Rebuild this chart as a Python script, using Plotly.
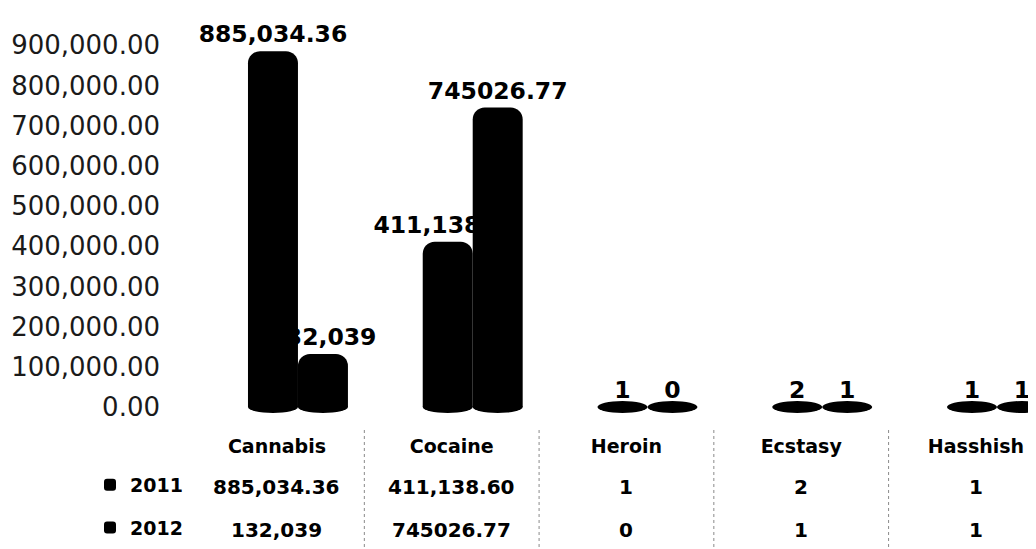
import plotly.graph_objects as go

# Saisies (kg) par drogue, 2011 et 2012
categories = ["Cannabis", "Cocaine", "Heroin", "Ecstasy", "Hasshish"]
years = ["2011", "2012"]
values_2011 = [885034.36, 411138.60, 1, 2, 1]
values_2012 = [132039, 745026.77, 0, 1, 1]
# libellés tels qu'ils apparaissent dans la table de données
labels_2011 = ["885,034.36", "411,138.60", "1", "2", "1"]
labels_2012 = ["132,039", "745026.77", "0", "1", "1"]
y_ticks = [0, 100000, 200000, 300000, 400000, 500000, 600000, 700000, 800000, 900000]

W, H = 1036, 549
LEFT, TOP, ZERO, BOTTOM = 190, 15, 399, 413
PLOT_H = BOTTOM - TOP
PX_PER_100K = 40.2
COL_W = 174.75  # largeur d'une colonne de la table (px)
SHIFT = -21  # décalage des libellés de table par rapport aux barres (effet 3D)
INK = "#000000"
FONT = "DejaVu Sans"


def paper_y(px):
    """Position verticale en pixels -> coordonnée 'paper'."""
    return (BOTTOM - px) / PLOT_H


fig = go.Figure()
series = [(years[0], values_2011, labels_2011), (years[1], values_2012, labels_2012)]
for name, vals, labels in series:
    fig.add_trace(go.Bar(
        name=name,
        x=categories,
        y=vals,
        text=labels,
        textposition="outside",
        constraintext="none",
        cliponaxis=False,
        textfont=dict(family=FONT, size=23.5, color=INK, weight="bold"),
        marker=dict(color="#000000", line=dict(width=0), cornerradius=12),
        legendgroup=name,
        hoverinfo="x+y+name",
    ))

# Fond elliptique des cylindres (seul visible pour les très petites valeurs)
bar_w = (1 - 0.428) / 2
for k, (name, vals, labels) in enumerate(series):
    off = (k - 0.5) * bar_w
    for i, v in enumerate(vals):
        fig.add_shape(
            type="circle", xref="x", yref="y",
            x0=i + off - bar_w / 2, x1=i + off + bar_w / 2,
            ysizemode="pixel", yanchor=0, y0=-6, y1=6,
            fillcolor="#000000", line=dict(width=0), layer="below",
        )

# Séparateurs de colonnes de la table de données
for i in range(len(categories)):
    fig.add_shape(
        type="line", xref="x", yref="paper",
        xsizemode="pixel", xanchor=i - 0.5, x0=SHIFT, x1=SHIFT,
        y0=paper_y(422), y1=paper_y(549),
        line=dict(color="#8a8a8a", width=1, dash="dot"),
    )

# Lignes de valeurs de la table
for i in range(len(categories)):
    for row_px, labels in ((479, labels_2011), (522, labels_2012)):
        fig.add_annotation(
            x=i, xref="x", xshift=SHIFT, y=paper_y(row_px), yref="paper",
            yanchor="middle", text=labels[i], showarrow=False,
            font=dict(family=FONT, size=20, color=INK, weight="bold"),
        )

ymin = -(BOTTOM - ZERO) / PX_PER_100K * 100000
ymax = (ZERO - TOP) / PX_PER_100K * 100000
xmin = -0.572
fig.update_layout(
    width=W, height=H,
    margin=dict(l=LEFT, r=0, t=TOP, b=H - BOTTOM, pad=0, autoexpand=False),
    paper_bgcolor="white", plot_bgcolor="white",
    barmode="group", bargap=0.428, bargroupgap=0,
    showlegend=True,
    legend=dict(
        xref="container", yref="container",
        x=82 / W, xanchor="left",
        y=1 - 458 / H, yanchor="top",
        font=dict(family=FONT, size=19, color=INK, weight="bold"),
        tracegroupgap=15, bgcolor="rgba(0,0,0,0)",
    ),
    font=dict(family=FONT, color=INK),
)
fig.update_xaxes(
    type="category", range=[xmin, xmin + (W - LEFT) / COL_W],
    automargin=False,
    showgrid=False, showline=False, zeroline=False, ticks="",
    ticklabelshift=SHIFT, ticklabelstandoff=12,
    tickfont=dict(family=FONT, size=19, color=INK, weight="bold"),
)
fig.update_yaxes(
    range=[ymin, ymax], tickvals=y_ticks, tickformat=",.2f",
    automargin=False,
    showgrid=False, showline=False, zeroline=False, ticks="",
    ticklabelstandoff=37,
    tickfont=dict(family=FONT, size=26, color="#1a1a1a"),
)

fig.write_html("out.html")
